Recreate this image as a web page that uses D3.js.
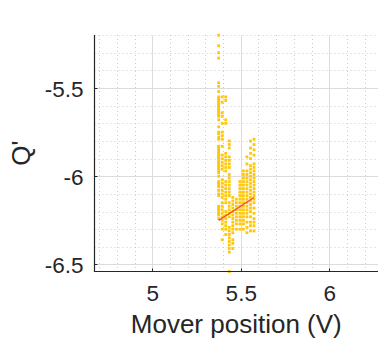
<!DOCTYPE html>
<html><head><meta charset="utf-8">
<script src="https://cdn.jsdelivr.net/npm/d3@7"></script>
<style>body{margin:0;background:#fff}svg{display:block}</style>
</head><body><svg id="c" width="392" height="349"></svg>
<script>
// ---- data ----
const xTicks = [5, 5.5, 6];
const yTicks = [-5.5, -6, -6.5];
const xTickLabels = ["5", "5.5", "6"];
const yTickLabels = ["-5.5", "-6", "-6.5"];
const xMinorTicks = [4.7,4.8,4.9,5.1,5.2,5.3,5.4,5.6,5.7,5.8,5.9,6.1,6.2];
const yMinorTicks = [-5.2,-5.3,-5.4,-5.6,-5.7,-5.8,-5.9,-6.1,-6.2,-6.3,-6.4];
const columnX = [5.375, 5.395, 5.415, 5.435, 5.455, 5.475, 5.495, 5.515, 5.535, 5.555, 5.575];
const columnY = [
  [-5.20,-5.26,-5.30,-5.33,-5.47,-5.49,-5.52,-5.55,-5.56,-5.57,-5.58,-5.59,-5.60,-5.61,-5.62,-5.63,-5.64,-5.65,-5.66,-5.68,-5.72,-5.75,-5.76,-5.78,-5.79,-5.83,-5.84,-5.85,-5.86,-5.87,-5.88,-5.89,-5.90,-5.91,-5.92,-5.93,-5.94,-5.95,-5.96,-5.97,-5.98,-6.00,-6.03,-6.04,-6.05,-6.06,-6.08,-6.10,-6.11,-6.17,-6.18,-6.19,-6.20,-6.21,-6.22,-6.24],
  [-5.55,-5.58,-5.64,-5.66,-5.70,-5.75,-5.77,-5.79,-5.83,-5.88,-5.90,-5.92,-5.94,-5.96,-6.02,-6.04,-6.06,-6.08,-6.10,-6.12,-6.15,-6.17,-6.19,-6.21,-6.23,-6.25,-6.27,-6.30,-6.36],
  [-5.55,-5.57,-5.68,-5.70,-5.87,-5.89,-5.91,-5.93,-5.95,-5.97,-6.03,-6.05,-6.07,-6.09,-6.11,-6.13,-6.15,-6.20,-6.22,-6.24,-6.26,-6.28,-6.30,-6.33],
  [-5.80,-5.82,-5.84,-5.89,-5.91,-5.93,-5.95,-5.99,-6.01,-6.03,-6.05,-6.07,-6.09,-6.11,-6.15,-6.17,-6.19,-6.21,-6.23,-6.29,-6.31,-6.33,-6.35,-6.37,-6.39,-6.41,-6.43,-6.54],
  [-6.12,-6.14,-6.16,-6.18,-6.20,-6.22,-6.24,-6.26,-6.28,-6.30,-6.32,-6.36,-6.38,-6.41],
  [-6.13,-6.15,-6.17,-6.19,-6.21,-6.23,-6.25,-6.27,-6.30],
  [-6.03,-6.05,-6.07,-6.09,-6.11,-6.13,-6.15,-6.17,-6.19,-6.21,-6.23,-6.25,-6.27,-6.30],
  [-5.97,-5.99,-6.01,-6.03,-6.05,-6.07,-6.09,-6.11,-6.13,-6.15,-6.17,-6.19,-6.21,-6.23,-6.25,-6.27,-6.30],
  [-5.89,-5.93,-5.97,-5.99,-6.01,-6.03,-6.05,-6.07,-6.09,-6.11,-6.13,-6.15,-6.17,-6.19,-6.21,-6.23,-6.26,-6.29,-6.32],
  [-5.80,-5.84,-5.87,-5.90,-5.94,-5.96,-5.98,-6.00,-6.02,-6.04,-6.06,-6.08,-6.10,-6.12,-6.14,-6.16,-6.18,-6.20,-6.23,-6.26,-6.28,-6.31],
  [-5.79,-5.82,-5.85,-5.88,-5.93,-5.95,-5.97,-5.99,-6.01,-6.03,-6.05,-6.07,-6.09,-6.11,-6.13,-6.15,-6.18,-6.21,-6.24,-6.26,-6.28,-6.31]
];
const fitX = [5.375, 5.575];
const fitY = [-6.25, -6.12];
const xLabel = "Mover position (V)";
const yLabel = "Q'";

// ---- drawing ----
const svg = d3.select("#c");
const L = 94.5, R = 378, T = 35, B = 271.5;
const x = d3.scaleLinear().domain([4.673, 6.276]).range([L, R]);
const y = d3.scaleLinear().domain([-5.199, -6.54]).range([T, B]);
const font = "'Liberation Sans', Arial, Helvetica, sans-serif";
const ink = "#262626";

const g = svg.append("g");
// minor grid (dotted)
g.selectAll(".vmin").data(xMinorTicks).join("line")
  .attr("x1", d => Math.round(x(d)) + 0.5).attr("x2", d => Math.round(x(d)) + 0.5)
  .attr("y1", T).attr("y2", B)
  .attr("stroke", "#cacaca").attr("stroke-width", 1).attr("stroke-dasharray", "1,3");
g.selectAll(".hmin").data(yMinorTicks).join("line")
  .attr("y1", d => Math.round(y(d)) + 0.5).attr("y2", d => Math.round(y(d)) + 0.5)
  .attr("x1", L).attr("x2", R)
  .attr("stroke", "#cacaca").attr("stroke-width", 1).attr("stroke-dasharray", "1,3");
// major grid
g.selectAll(".vmaj").data(xTicks).join("line")
  .attr("x1", d => Math.round(x(d)) + 0.5).attr("x2", d => Math.round(x(d)) + 0.5)
  .attr("y1", T).attr("y2", B).attr("stroke", "#dcdcdc").attr("stroke-width", 1);
g.selectAll(".hmaj").data(yTicks).join("line")
  .attr("y1", d => Math.round(y(d)) + 0.5).attr("y2", d => Math.round(y(d)) + 0.5)
  .attr("x1", L).attr("x2", R).attr("stroke", "#dcdcdc").attr("stroke-width", 1);

// scatter points
const pts = [];
columnX.forEach((cx, i) => columnY[i].forEach(v => pts.push([cx, v])));
const s = 2.8;
g.selectAll(".pt").data(pts).join("rect")
  .attr("x", d => x(d[0]) - s/2).attr("y", d => y(d[1]) - s/2)
  .attr("width", s).attr("height", s).attr("fill", "#ffc60a");

// fit line
g.append("path")
  .attr("d", d3.line().x(d => x(d[0])).y(d => y(d[1]))(fitX.map((v, i) => [v, fitY[i]])))
  .attr("stroke", "#f24d27").attr("stroke-width", 1.3).attr("fill", "none");

// axes
const xAxis = d3.axisBottom(x).tickValues(xTicks).tickFormat((d, i) => xTickLabels[i]).tickSize(0).tickPadding(0);
const yAxis = d3.axisLeft(y).tickValues(yTicks).tickFormat((d, i) => yTickLabels[i]).tickSize(0).tickPadding(0);
const xa = svg.append("g").attr("transform", `translate(0,${B})`).call(xAxis);
const ya = svg.append("g").attr("transform", `translate(${L},0)`).call(yAxis);
[xa, ya].forEach(a => { a.select(".domain").remove(); a.selectAll("text").attr("fill", ink).style("font-family", font).style("font-size", "22.5px"); });
xa.selectAll("text").attr("dy", null).attr("y", 29.5);
ya.selectAll("text").attr("x", -11).attr("dy", "0.36em");

// axis lines
svg.append("line").attr("x1", L).attr("x2", L).attr("y1", T).attr("y2", B + 0.5).attr("stroke", ink).attr("stroke-width", 1.2);
svg.append("line").attr("x1", L).attr("x2", R).attr("y1", B).attr("y2", B).attr("stroke", ink).attr("stroke-width", 1.2);
// inward ticks
svg.selectAll(".xt").data(xTicks).join("line")
  .attr("x1", d => Math.round(x(d)) + 0.5).attr("x2", d => Math.round(x(d)) + 0.5)
  .attr("y1", B).attr("y2", B - 3).attr("stroke", ink);
svg.selectAll(".yt").data(yTicks).join("line")
  .attr("y1", d => Math.round(y(d)) + 0.5).attr("y2", d => Math.round(y(d)) + 0.5)
  .attr("x1", L).attr("x2", L + 3).attr("stroke", ink);

// labels
svg.append("text").attr("x", (L + R) / 2).attr("y", 333).attr("text-anchor", "middle")
  .attr("fill", ink).style("font-family", font).style("font-size", "26px").text(xLabel);
svg.append("text").attr("transform", `translate(30,${(T + B) / 2}) rotate(-90)`).attr("text-anchor", "middle")
  .attr("fill", ink).style("font-family", font).style("font-size", "26px").text(yLabel);
</script></body></html>
